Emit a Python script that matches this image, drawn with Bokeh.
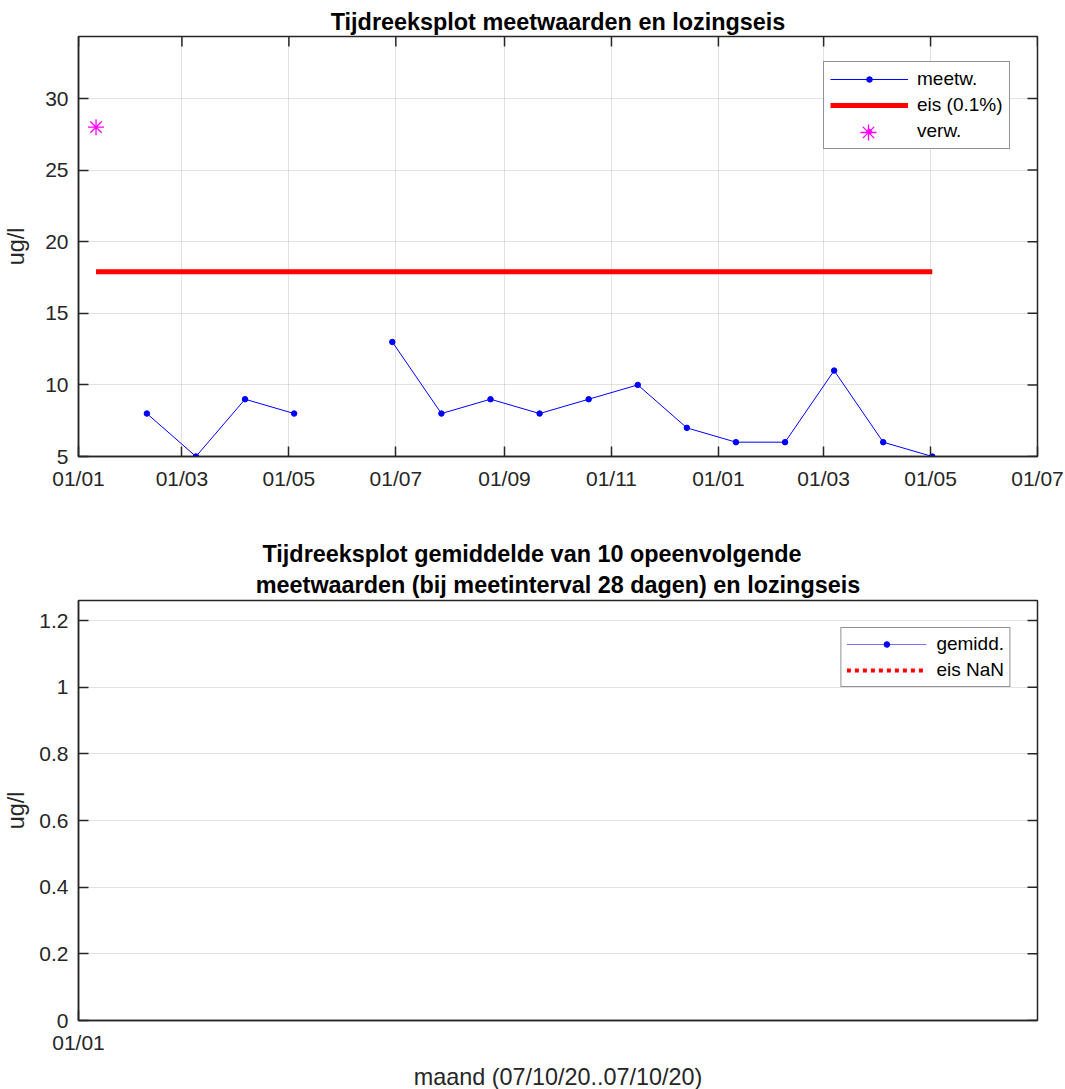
import numpy as np
import pandas as pd
from bokeh.plotting import figure
from bokeh.layouts import column
from bokeh.models import (ColumnDataSource, FixedTicker, DatetimeTickFormatter, Range1d,
                          Legend, LegendItem, Title)
from bokeh.embed import file_html
from bokeh.resources import INLINE

# ---------------- data ----------------
meet_dates = ["2019-02-09", "2019-03-09", "2019-04-06", "2019-05-04", "2019-06-01",
              "2019-06-29", "2019-07-27", "2019-08-24", "2019-09-21", "2019-10-19",
              "2019-11-16", "2019-12-14", "2020-01-11", "2020-02-08", "2020-03-07",
              "2020-04-04", "2020-05-02"]
meet_values = [8, 5, 9, 8, np.nan, 13, 8, 9, 8, 9, 10, 7, 6, 6, 11, 6, 5]
eis_dates = ["2019-01-11", "2020-05-02"]
eis_values = [17.9, 17.9]
verw_dates = ["2019-01-11"]
verw_values = [28]
top_x_ticks = ["2019-01-01", "2019-03-01", "2019-05-01", "2019-07-01", "2019-09-01",
               "2019-11-01", "2020-01-01", "2020-03-01", "2020-05-01", "2020-07-01"]
top_x_range = ["2019-01-01", "2020-07-01"]
top_y_ticks = [5, 10, 15, 20, 25, 30]
top_y_range = [5, 34.33]

# bottom panel: all averages and the limit are NaN
gemidd_x = [0.0]
gemidd_y = [np.nan]
eis2_x = [0.0, 1.0]
eis2_y = [np.nan, np.nan]
bottom_x_ticks = [0]
bottom_x_labels = ["01/01"]
bottom_x_range = [0, 1]
bottom_y_ticks = [0, 0.2, 0.4, 0.6, 0.8, 1.0, 1.2]
bottom_y_labels = ["0", "0.2", "0.4", "0.6", "0.8", "1", "1.2"]
bottom_y_range = [0, 1.26]

FONT = "Liberation Sans"
DARK = "#262626"
TICK_FS = "21px"
LABEL_FS = "23.4px"
TITLE_FS = "23.4px"
LEG_FS = "19px"
FW, FH = 959, 420
TICK_LEN = 10


def ms(dates):
    return [float(pd.Timestamp(d).value // 10**6) for d in dates]


def style_axis(ax):
    ax.axis_line_color = DARK
    ax.axis_line_width = 1.5
    ax.major_tick_line_color = DARK
    ax.major_tick_line_width = 1.5
    ax.major_tick_in = TICK_LEN
    ax.major_tick_out = 0
    ax.minor_tick_line_color = None
    ax.major_label_text_font = FONT
    ax.major_label_text_color = DARK
    ax.major_label_text_font_size = TICK_FS
    ax.axis_label_text_font = FONT
    ax.axis_label_text_font_style = "normal"
    ax.axis_label_text_color = DARK
    ax.axis_label_text_font_size = LABEL_FS


def box_ticks(p, xr, yr, xticks, yticks):
    """Inward ticks on the top and right edges of the box (MATLAB 'box on')."""
    dx = (xr[1] - xr[0]) / FW * TICK_LEN
    dy = (yr[1] - yr[0]) / FH * TICK_LEN
    if xticks:
        n = len(xticks)
        p.segment(x0=xticks, y0=[yr[1]] * n, x1=xticks, y1=[yr[1] - dy] * n,
                  line_color=DARK, line_width=1.5)
    if yticks:
        n = len(yticks)
        p.segment(x0=[xr[1] - dx] * n, y0=yticks, x1=[xr[1]] * n, y1=yticks,
                  line_color=DARK, line_width=1.5)


fmt = DatetimeTickFormatter(days="%d/%m", months="%d/%m", years="%d/%m", hours="%d/%m")

# ---------------- top figure ----------------
xr1 = ms(top_x_range)
p1 = figure(frame_width=FW, frame_height=FH, output_backend="svg", toolbar_location=None,
            x_axis_type="datetime",
            x_range=Range1d(*xr1), y_range=Range1d(*top_y_range),
            min_border_left=77, min_border_right=29, min_border_top=36, min_border_bottom=54)
p1.title.text = "Tijdreeksplot meetwaarden en lozingseis"
p1.title.align = "center"
p1.title.text_font = FONT
p1.title.text_font_size = TITLE_FS
p1.title.text_font_style = "bold"
p1.title.text_color = "black"
p1.title.standoff = 4
p1.outline_line_color = DARK
p1.outline_line_width = 1.5
p1.background_fill_color = "white"
p1.border_fill_color = "white"

xt1 = FixedTicker(ticks=ms(top_x_ticks))
yt1 = FixedTicker(ticks=top_y_ticks)
p1.xaxis.ticker = xt1
p1.xaxis.formatter = fmt
p1.yaxis.ticker = yt1
p1.yaxis.axis_label = "ug/l"
for ax in p1.xaxis + p1.yaxis:
    style_axis(ax)
p1.xaxis.major_label_standoff = 10
p1.yaxis.major_label_standoff = 10
p1.yaxis.axis_label_standoff = 13
p1.xgrid.ticker = xt1
p1.ygrid.ticker = yt1
for g in (p1.xgrid[0], p1.ygrid[0]):
    g.grid_line_color = DARK
    g.grid_line_alpha = 0.13
    g.grid_line_width = 1

box_ticks(p1, xr1, top_y_range, ms(top_x_ticks), top_y_ticks)

src_meet = ColumnDataSource(dict(x=pd.to_datetime(meet_dates), y=meet_values))
r_line = p1.line("x", "y", source=src_meet, line_color="blue", line_width=1)
r_dot = p1.scatter("x", "y", source=src_meet, size=5.5, color="blue")
src_eis = ColumnDataSource(dict(x=pd.to_datetime(eis_dates), y=eis_values))
r_eis = p1.line("x", "y", source=src_eis, line_color="red", line_width=5)
src_verw = ColumnDataSource(dict(x=pd.to_datetime(verw_dates), y=verw_values))
r_verw = p1.scatter("x", "y", source=src_verw, marker="asterisk", size=16,
                    line_color="#ff00ff", line_width=1.3)

# main legend (box, lines, labels); bottom-left corner at (745, 307) in frame px
leg1 = Legend(items=[LegendItem(label="meetw.", renderers=[r_line, r_dot]),
                     LegendItem(label="eis (0.1%)", renderers=[r_eis]),
                     LegendItem(label="verw.", renderers=[r_verw])],
              location=(745, 307), glyph_width=78, glyph_height=14,
              label_standoff=9, padding=6, spacing=4,
              label_text_font=FONT, label_text_font_size=LEG_FS, label_text_color="black",
              border_line_color=DARK, border_line_width=1.2, background_fill_alpha=1)
p1.add_layout(leg1)
# larger asterisk symbol in the third legend row
leg1b = Legend(items=[LegendItem(label=" ", renderers=[r_verw])],
               location=(751, 304), glyph_width=78, glyph_height=40,
               label_standoff=0, padding=0, spacing=0,
               label_text_font=FONT, label_text_font_size="8px",
               border_line_color=None, background_fill_alpha=0)
p1.add_layout(leg1b)

# ---------------- bottom figure ----------------
p2 = figure(frame_width=FW, frame_height=FH, output_backend="svg", toolbar_location=None,
            x_range=Range1d(*bottom_x_range), y_range=Range1d(*bottom_y_range),
            min_border_left=77, min_border_right=29, min_border_top=90, min_border_bottom=69)
p2.outline_line_color = DARK
p2.outline_line_width = 1.5
p2.background_fill_color = "white"
p2.border_fill_color = "white"
t2b = Title(text="meetwaarden (bij meetinterval 28 dagen) en lozingseis", align="center",
            text_font=FONT, text_font_size=TITLE_FS, text_font_style="bold", text_color="black",
            standoff=6)
t2a = Title(text="Tijdreeksplot gemiddelde van 10 opeenvolgende", align="left",
            text_font=FONT, text_font_size=TITLE_FS, text_font_style="bold", text_color="black",
            offset=184, standoff=0)
p2.add_layout(t2b, "above")
p2.add_layout(t2a, "above")

xt2 = FixedTicker(ticks=bottom_x_ticks)
yt2 = FixedTicker(ticks=bottom_y_ticks)
p2.xaxis.ticker = xt2
p2.xaxis.major_label_overrides = {t: l for t, l in zip(bottom_x_ticks, bottom_x_labels)}
p2.xaxis.axis_label = "maand (07/10/20..07/10/20)"
p2.yaxis.ticker = yt2
p2.yaxis.major_label_overrides = {t: l for t, l in zip(bottom_y_ticks, bottom_y_labels)}
p2.yaxis.axis_label = "ug/l"
for ax in p2.xaxis + p2.yaxis:
    style_axis(ax)
p2.xaxis.major_label_standoff = 10
p2.xaxis.axis_label_standoff = 7
p2.yaxis.major_label_standoff = 10
p2.yaxis.axis_label_standoff = 7
p2.xgrid.visible = False
p2.ygrid.ticker = yt2
p2.ygrid.grid_line_color = DARK
p2.ygrid.grid_line_alpha = 0.13

box_ticks(p2, bottom_x_range, bottom_y_range, [], bottom_y_ticks)

src_g = ColumnDataSource(dict(x=gemidd_x, y=gemidd_y))
g_line = p2.line("x", "y", source=src_g, line_color="blue", line_width=1.2, line_alpha=0.55)
g_dot = p2.scatter("x", "y", source=src_g, size=5.5, color="blue")
src_e2 = ColumnDataSource(dict(x=eis2_x, y=eis2_y))
e2_line = p2.line("x", "y", source=src_e2, line_color="red", line_width=4, line_dash="4 4")

leg2 = Legend(items=[LegendItem(label="gemidd.", renderers=[g_line, g_dot]),
                     LegendItem(label="eis NaN", renderers=[e2_line])],
              location="top_right", margin=27, glyph_width=80, glyph_height=14,
              label_standoff=10, padding=5, spacing=4,
              label_text_font=FONT, label_text_font_size=LEG_FS, label_text_color="black",
              border_line_color=DARK, border_line_width=1.2, background_fill_alpha=1)
p2.add_layout(leg2)

layout = column(p1, p2, spacing=0)
open("out.html", "w").write(file_html(layout, INLINE))
